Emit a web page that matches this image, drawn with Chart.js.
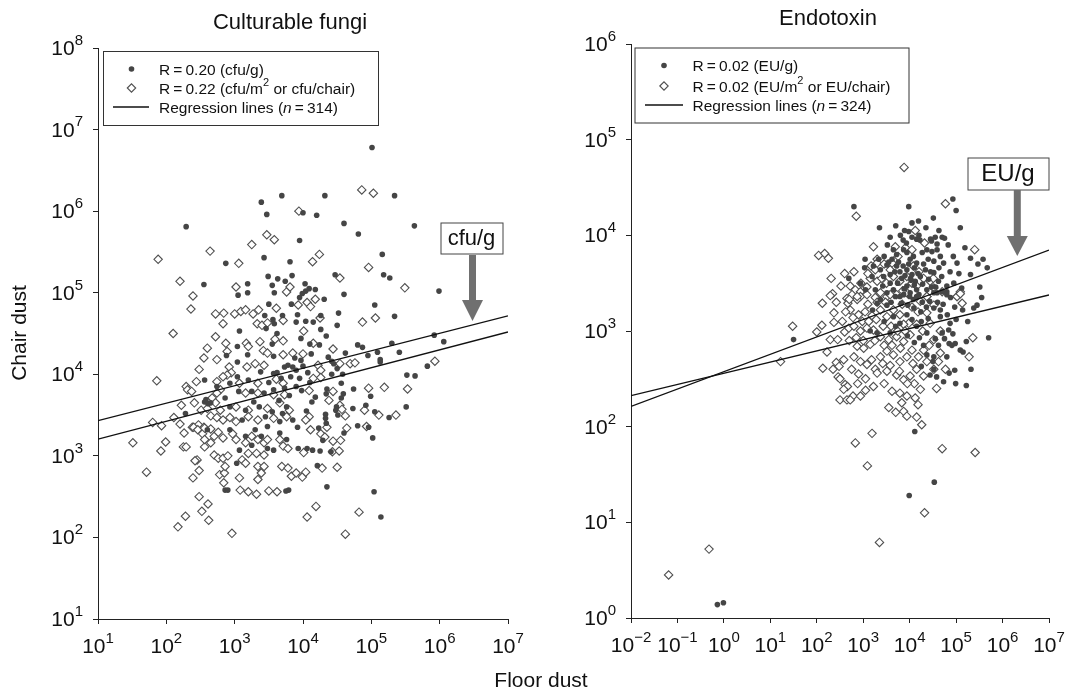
<!DOCTYPE html>
<html>
<head>
<meta charset="utf-8">
<script src="https://cdn.jsdelivr.net/npm/chart.js@4.4.1/dist/chart.umd.min.js"></script>
<style>
  html, body { margin: 0; padding: 0; background: #fff; }
  #wrap { position: relative; width: 1066px; height: 693px; overflow: hidden; }
  canvas { position: absolute; top: 0; }
  #fungiChart { left: 0; }
  #endoChart { left: 533px; }
  #xTitle { position: absolute; left: 431px; width: 220px; top: 667px; text-align: center;
            font: 21px/25px "Liberation Sans", Arial, sans-serif; color: #111; }
</style>
</head>
<body>
<div id="wrap">
  <canvas id="fungiChart" width="533" height="693"></canvas>
  <canvas id="endoChart" width="533" height="693"></canvas>
  <div id="xTitle">Floor dust</div>
</div>
<script>
// decades shown on the axes (exponents of 10)
const fungiXDecades = [1, 2, 3, 4, 5, 6, 7];
const fungiYDecades = [1, 2, 3, 4, 5, 6, 7, 8];
const endoXDecades = [-2, -1, 0, 1, 2, 3, 4, 5, 6, 7];
const endoYDecades = [0, 1, 2, 3, 4, 5, 6];

// regression lines, end points (floor dust -> chair dust)
const fungiFitX = [10, 1e7];
const fungiFitGram = [2700, 52000];
const fungiFitArea = [1600, 33000];
const endoFitX = [0.01, 1e7];
const endoFitGram = [163, 7000];
const endoFitArea = [211, 2380];

// samples as [log10 floor, log10 chair]
const fungiPerGram = [
  [5.01,6.78],[3.39,6.11],[3.69,6.19],[4.32,6.19],[5.34,6.19],[3.47,5.96],[4.0,5.98],[4.2,5.95],[2.29,5.81],[4.6,5.85],
  [4.81,5.72],[5.63,5.82],[3.95,5.64],[3.43,5.43],[2.87,5.36],[3.81,5.38],[5.16,5.47],[2.55,5.1],[3.49,5.2],[3.63,5.17],
  [3.84,5.21],[4.47,5.22],[5.18,5.22],[5.27,5.18],[5.99,5.02],[3.19,5.11],[3.05,4.97],[3.19,5.0],[3.55,5.09],[3.58,5.0],
  [3.74,5.14],[4.03,5.11],[4.09,5.05],[4.18,5.04],[3.99,4.99],[4.04,5.02],[4.6,4.98],[5.05,4.85],[5.34,4.71],[3.5,4.86],
  [3.83,4.86],[3.95,4.94],[4.31,4.92],[3.07,4.53],[3.44,4.72],[3.56,4.67],[3.7,4.72],[3.58,4.62],[3.46,4.56],[3.62,4.5],
  [3.92,4.73],[3.9,4.64],[4.04,4.65],[4.15,4.64],[4.26,4.72],[4.52,4.75],[4.5,4.6],[4.26,4.55],[4.34,4.47],[3.97,4.44],
  [5.92,4.48],
  [2.56,3.93],[2.56,3.66],[2.61,3.64],[2.28,3.52],[2.86,3.71],[3.03,2.91],[2.86,2.58],[2.9,2.58],[3.75,2.57],[3.79,2.58],
  [3.93,3.09],[4.06,3.09],[4.14,3.07],
  [3.04,4.34],[2.88,4.23],[3.04,4.15],[3.19,4.24],[3.57,4.22],[3.55,4.37],[3.73,4.09],[3.78,4.11],[3.85,4.09],[3.9,4.05],
  [3.57,4.01],[3.2,3.93],[3.04,3.97],[2.93,3.89],[3.06,3.79],[3.25,3.79],[3.43,3.77],[3.57,3.81],[3.73,3.83],[3.9,3.85],
  [2.58,3.69],[2.65,3.65],[2.93,3.6],[3.16,3.56],[3.36,3.6],[3.55,3.54],[3.76,3.6],[3.66,3.42],[3.85,3.44],[3.11,3.44],
  [3.3,3.32],[3.48,3.36],[2.6,3.32],[2.93,3.32],[3.16,3.24],[3.39,3.24],[3.66,3.28],[3.57,3.07],[3.48,3.09],[3.07,3.07],
  [3.25,3.13],[3.76,3.2],[2.74,3.85],
  [4.1,4.37],[4.24,4.36],[4.62,4.26],[4.8,4.36],[4.87,4.33],[4.95,4.23],[5.09,4.27],[5.13,4.18],[5.13,4.15],[5.41,4.27],
  [5.3,4.38],[6.06,4.4],[5.82,4.1],[5.52,3.99],[5.64,3.98],[4.37,4.21],[4.42,4.16],[4.45,4.13],[4.5,4.07],[4.58,4.0],
  [4.42,4.0],[4.56,3.89],[4.74,3.82],[4.35,3.82],[4.34,3.76],[4.59,3.76],[4.56,3.71],[4.49,3.6],[4.48,3.56],[4.73,3.58],
  [4.51,3.5],[4.33,3.51],[4.33,3.46],[4.34,3.4],[4.23,3.34],[4.29,3.19],[4.6,3.28],[4.8,3.37],[4.92,3.62],[4.99,3.73],
  [5.05,3.54],[5.26,3.47],[5.51,3.6],[5.02,3.22],[4.96,3.35],[4.25,3.06],[4.41,3.05],[4.21,2.88],[4.35,2.62],[5.04,2.56],
  [5.14,2.25],[4.18,3.72],[4.13,3.66],
  [3.62,4.02],[3.68,3.95],[3.82,3.97],[3.95,3.95],[4.0,4.1],[4.07,4.02],[3.88,4.2],[3.97,4.17],[4.1,3.9],[3.8,3.74],
  [3.65,3.68],[3.5,3.9],[3.38,4.03],[3.28,3.66],[3.45,3.48],[3.98,3.8],[4.05,3.55],[4.12,4.25],[3.7,3.52],[3.92,3.35]
];

const fungiPerArea = [
  [4.86,6.26],[5.03,6.22],[3.94,6.0],[3.47,5.71],[3.58,5.65],[3.25,5.59],[2.64,5.51],[1.88,5.41],[3.06,5.36],[4.14,5.38],
  [4.24,5.47],[4.96,5.31],[4.54,5.18],[2.2,5.14],[3.02,5.07],[5.49,5.06],[2.39,4.96],[2.36,4.8],[3.76,5.01],[3.81,5.07],
  [4.06,4.88],[4.18,4.92],[4.11,4.83],[3.61,4.81],[2.72,4.74],[2.84,4.75],[2.83,4.62],[3.0,4.74],[3.09,4.77],[3.16,4.79],
  [3.27,4.74],[3.35,4.79],[3.33,4.62],[3.4,4.6],[3.48,4.63],[3.71,4.66],[3.93,4.85],[4.01,4.53],[4.25,4.69],[4.87,4.64],
  [5.06,4.69],[2.1,4.5],[2.72,4.46],[2.87,4.38],[3.17,4.38],[3.37,4.4],[3.59,4.43],[3.71,4.41],[4.15,4.38],
  [1.86,3.92],[1.51,3.16],[1.71,2.8],[1.8,3.41],[1.93,3.37],[1.92,3.06],[1.99,3.17],[2.11,3.47],[2.22,3.62],[2.2,3.39],
  [2.26,3.28],[2.25,3.11],[2.29,3.11],[2.29,3.85],[2.31,3.81],[2.37,3.79],[2.41,3.65],[2.38,3.35],[2.44,3.91],[2.48,4.06],
  [2.55,4.2],[2.6,4.32],[2.47,3.38],[2.55,3.35],[2.45,2.95],[2.42,2.94],[2.48,2.82],[2.39,2.73],[2.48,2.5],[2.61,2.41],
  [2.52,2.32],[2.62,2.21],[2.28,2.26],[2.17,2.13],[2.96,2.05],[2.78,2.77],[2.85,2.79],[2.84,2.67],[2.86,2.87],[4.06,2.25],
  [4.19,2.38],[4.28,2.85],[4.5,2.86],[4.62,2.04],[4.82,2.31],[4.43,3.05],[4.44,3.18],[4.01,3.04],[4.26,3.27],[4.32,3.23],
  [4.35,3.35],[4.38,3.68],[4.44,3.79],[4.64,3.34],[4.93,3.36],[4.9,3.56],[4.96,3.83],[5.11,3.5],[5.19,3.84],[5.36,3.5],
  [5.53,3.82],[5.93,4.16],[4.69,4.13],[4.54,4.13],[4.15,3.95],[4.54,3.62],[4.57,3.57],
  [2.89,4.28],[2.74,4.18],[2.92,4.09],[2.95,4.02],[2.89,3.99],[3.18,4.09],[3.3,4.13],[3.43,4.11],[3.42,4.29],[3.48,4.26],
  [3.2,4.34],[3.71,4.24],[3.85,4.26],[2.74,3.91],[2.83,3.97],[3.07,3.89],[3.34,3.89],[3.61,3.94],[3.71,3.89],[2.79,3.81],
  [2.74,3.77],[3.16,3.77],[3.34,3.77],[3.57,3.75],[3.73,3.75],[2.67,3.71],[2.72,3.65],[2.51,3.56],[2.6,3.58],[2.79,3.56],
  [3.02,3.6],[3.2,3.56],[3.48,3.58],[3.66,3.65],[3.8,3.56],[2.65,3.49],[2.74,3.47],[2.83,3.44],[2.93,3.47],[3.02,3.42],
  [3.2,3.48],[3.34,3.44],[3.57,3.46],[3.76,3.48],[2.4,3.35],[2.46,3.32],[2.53,3.27],[2.56,3.34],[2.65,3.33],[2.7,3.24],
  [2.76,3.29],[2.83,3.22],[2.97,3.27],[3.02,3.2],[3.16,3.16],[3.25,3.24],[3.34,3.2],[3.43,3.16],[3.48,3.2],[3.66,3.2],
  [3.71,3.12],[3.78,3.09],[2.56,3.11],[2.65,3.16],[2.56,3.2],[2.7,3.01],[2.76,2.97],[2.83,2.97],[2.9,3.0],[3.2,3.03],
  [3.32,3.03],[3.43,3.01],[3.11,2.95],[3.16,2.91],[3.34,2.87],[3.43,2.87],[3.69,2.87],[3.78,2.85],[3.83,2.75],[3.9,2.79],
  [3.34,2.71],[3.39,2.79],[3.07,2.73],[3.08,2.58],[3.2,2.56],[3.32,2.53],[3.5,2.57],[3.62,2.56],
  [4.0,4.25],[4.22,4.11],[4.26,4.05],[4.26,3.96],[4.44,4.31],[4.76,4.14],[4.09,3.8],[4.62,3.49],[4.09,3.48],[4.11,3.32],
  [4.04,3.44],[4.55,3.19],[4.53,3.06],[3.99,2.74],[4.04,2.8]
];

const endoPerGram = [
  [2.8,4.3],[3.98,4.3],[4.93,4.38],[5.0,4.26],[5.09,4.08],[4.51,4.18],[4.19,4.15],[3.35,4.08],[3.58,3.98],[3.8,4.0],
  [3.89,4.05],[3.98,4.04],[4.05,3.98],[4.15,3.96],[4.22,3.95],[4.47,3.94],[4.59,3.91],[4.7,3.98],[4.75,3.97],[5.19,3.87],
  [5.31,3.76],[5.58,3.75],[5.47,3.7],[5.67,3.66],[5.31,3.59],[5.51,3.46],[3.04,3.75],[3.03,3.66],[3.22,3.68],[3.33,3.75],
  [2.69,3.55],[3.65,3.85],[3.72,3.8],[3.62,3.75],[3.87,3.85],[3.94,3.82],[4.01,3.75],[4.08,3.78],[4.15,3.71],[4.37,3.85],
  [4.48,3.83],[4.59,3.85],[4.66,3.78],[4.52,3.73],[4.73,3.71],[4.94,3.78],[5.02,3.71],[3.51,3.69],[3.37,3.64],[3.44,3.57],
  [3.58,3.59],[3.72,3.68],[3.79,3.62],[3.83,3.55],[3.94,3.64],[4.05,3.59],[4.12,3.52],[4.23,3.57],[4.34,3.64],[4.41,3.54],
  [4.52,3.61],[4.62,3.52],[4.69,3.57],[4.8,3.47],[3.94,3.47],[4.15,3.43],[4.37,3.43],[4.59,3.4],[4.8,3.41],[3.65,3.43],
  [3.79,3.36],[3.51,3.4],[2.94,3.5],[3.05,3.43],[3.26,3.43],
  [1.5,2.91],[4.11,1.95],[4.99,2.45],[5.22,2.43],[4.85,2.56],[4.97,2.59],[4.44,2.54],[4.52,2.6],[4.25,2.63],[4.5,2.68],
  [5.09,2.8],[5.15,2.78],[4.85,2.87],[4.98,2.87],[4.91,2.85],[4.75,2.92],[4.55,2.92],[4.37,2.98],[4.21,2.93],[5.7,2.93],
  [5.22,2.89],[5.14,3.22],[5.38,3.24],[4.87,3.08],[4.84,3.01],[4.66,3.15],[4.81,3.17],[4.52,3.24],[4.66,3.22],[3.3,3.29],
  [3.37,3.33],[3.51,3.27],[3.87,3.38],[4.01,3.4],[4.08,3.33],[4.15,3.36],[3.79,3.08],[3.65,3.15],[3.94,3.17],[4.05,3.12],
  [4.15,3.05],[3.15,3.0],[3.3,2.98],[3.58,2.98],[4.52,3.4],[4.7,3.41],[4.8,3.38],[4.37,2.75],[4.52,2.73],[4.8,2.73],
  [3.45,3.78],[3.55,3.72],[3.68,3.62],[3.76,3.72],[3.86,3.68],[3.9,3.58],[3.98,3.7],[4.03,3.53],[4.1,3.66],[4.18,3.6],
  [4.28,3.49],[4.3,3.7],[4.4,3.75],[4.45,3.62],[4.56,3.46],[4.63,3.66],[3.74,3.5],[3.88,3.44],[4.0,3.36],[4.1,3.48],
  [4.2,3.38],[4.27,3.3],[4.43,3.31],[4.47,3.46],[3.58,3.5],[3.69,3.36],[3.82,3.29],[3.96,3.27],[4.09,3.24],[4.24,3.2],
  [4.36,3.25],[4.6,3.3],[4.72,3.28],[4.88,3.35],[4.95,3.5],[5.06,3.6],[5.12,3.45],[4.87,3.62],[4.83,3.9],[4.63,4.05],
  [4.35,4.08],[4.05,4.13],[3.7,4.1],[3.52,3.9],[3.42,3.47],[3.19,3.57],[3.86,3.95],[4.27,3.82],[4.45,3.96],[3.6,3.3],
  [3.95,2.95],[4.1,2.88],[4.3,2.85],[4.62,2.85],[4.7,2.98],[4.93,2.97],[5.0,3.12],[4.97,3.25],[5.25,3.1],[5.45,3.27],
  [5.55,3.35],[4.58,2.52],[4.73,2.47],[5.32,2.6],[4.4,3.13],[4.25,3.1],[3.7,3.05],[3.45,3.1],[3.2,3.22],[4.02,3.55],
  [3.93,3.92],[4.2,4.0],[4.55,3.98],
  [-0.14,0.14],[-0.01,0.16],[3.99,1.28],[4.53,1.42]
];

const endoPerArea = [
  [3.88,4.71],[4.77,4.33],[2.85,4.2],[3.22,3.88],[4.12,4.05],[4.32,3.92],[5.4,3.85],[2.04,3.79],[2.17,3.81],[2.25,3.76],
  [2.31,3.55],[2.34,3.39],[3.3,3.75],[3.3,3.71],[3.69,3.88],[3.91,3.87],[4.05,3.85],[3.17,3.68],[3.26,3.64],[3.62,3.71],
  [3.58,3.64],[3.15,3.55],[3.3,3.52],[3.4,3.55],[3.65,3.57],[3.79,3.52],[3.94,3.57],[4.05,3.5],[4.15,3.47],[4.3,3.55],
  [4.44,3.52],[4.51,3.55],[5.09,3.41],[5.02,3.36],[2.72,3.47],[2.83,3.43],[2.94,3.41],[3.08,3.46],[2.94,3.36],[2.76,3.38],
  [2.29,3.37],[2.65,3.34],[2.87,3.33],[3.37,3.4],[3.51,3.36],[3.72,3.38],[3.94,3.4],[4.37,3.36],[4.52,3.45],[4.7,3.41],
  [2.12,3.29],[1.48,3.05],[2.11,3.06],[2.0,2.99],[2.37,3.19],[2.37,3.09],[2.29,2.91],[2.45,2.91],[2.22,2.78],[1.22,2.68],
  [2.13,2.61],[2.35,2.6],[2.46,2.52],[2.58,2.7],[2.6,2.99],[2.69,3.03],[2.67,3.29],[2.7,3.33],[2.42,2.67],[2.48,2.63],
  [2.61,2.44],[2.66,2.42],[2.5,2.28],[2.65,2.28],[2.78,2.32],[2.94,2.32],[2.72,2.28],[2.58,2.39],[2.8,2.73],[2.94,2.68],
  [3.08,2.65],[3.26,2.6],[2.87,2.84],[3.01,2.82],[3.15,2.86],[2.8,3.05],[2.94,3.0],[3.08,3.03],[3.22,3.01],[2.72,3.22],
  [2.9,3.17],[3.04,3.2],[3.19,3.16],[2.87,3.36],[3.08,3.38],[3.26,3.35],[3.37,3.22],[3.51,3.15],[3.65,3.22],[3.79,3.17],
  [3.37,2.94],[3.55,2.91],[3.72,2.94],[3.87,2.89],[4.01,2.96],[3.37,2.73],[3.51,2.79],[3.65,2.75],[3.79,2.68],[3.94,2.73],
  [3.3,2.56],[3.51,2.58],[3.72,2.54],[3.87,2.49],[4.01,2.53],[3.22,2.42],[3.62,2.37],[3.79,2.35],[3.94,2.32],[3.83,2.25],
  [4.12,2.3],[3.87,2.16],[3.94,2.11],[4.15,2.1],[4.26,2.02],[4.23,2.39],[4.15,2.6],[4.3,2.53],[4.19,2.73],[4.37,2.68],
  [3.19,1.93],[2.83,1.83],[4.7,1.77],[5.41,1.73],[5.28,2.73],[4.66,2.77],[4.52,2.91],[4.66,3.0],[4.44,3.08],[4.37,3.19],
  [4.52,3.27],[4.23,3.31],[4.37,3.36],[4.62,2.68],[4.77,2.6],[4.52,2.6],[5.02,3.36],[5.13,3.29],[5.09,3.39],[3.98,3.08],
  [4.15,3.07],[3.87,3.07],[5.36,2.93],
  [2.55,3.1],[2.62,3.2],[2.78,3.14],[2.98,3.1],[3.12,3.1],[3.28,3.12],[3.43,3.05],[3.6,3.05],[3.74,3.0],[3.9,3.0],
  [2.7,2.9],[2.85,2.93],[3.0,2.9],[3.25,2.9],[3.45,2.85],[3.62,2.85],[3.8,2.82],[4.05,2.8],[2.75,2.6],[2.9,2.55],
  [3.05,2.5],[3.18,2.7],[3.42,2.66],[3.58,2.64],[3.78,2.58],[4.07,2.66],[4.1,2.45],[2.88,2.45],[3.05,2.38],[3.45,2.45],
  [2.5,2.5],[3.1,3.28],[3.3,3.3],[3.48,3.3],[3.58,3.38],[3.84,3.28],[4.05,3.25],[4.18,3.2],[4.28,3.0],[4.3,2.8],
  [2.95,3.5],[3.1,3.6],[3.5,3.5],[3.85,3.42],[4.2,3.62],[3.45,3.7],[3.75,3.78],[4.08,3.68],[2.52,3.47],[2.42,3.3],
  [2.6,3.6],[2.8,3.62],[4.42,2.85],[4.58,2.4],[3.95,2.45],[4.18,2.23],[3.7,2.15],[3.55,2.2],
  [3.35,0.79],[4.32,1.1],[-0.32,0.72],[-1.19,0.45],[3.09,1.59]
];

const FONT = '"Liberation Sans", Arial, sans-serif';
const DOT_COLOR = "#454545";
const DIAMOND_EDGE = "#4f4f4f";

const toPoints = (pairs) => pairs.map(([lx, ly]) => ({ x: Math.pow(10, lx), y: Math.pow(10, ly) }));
const toLine = (xs, ys) => xs.map((x, i) => ({ x: x, y: ys[i] }));

// text made of runs, some raised (superscript) or italic
function drawRuns(ctx, runs, x, y, size, align) {
  const supSize = Math.round(size * 0.7);
  const fontOf = (r) => (r.it ? "italic " : "") + (r.sup ? supSize : size) + "px " + FONT;
  let total = 0;
  const widths = runs.map((r) => {
    ctx.font = fontOf(r);
    const w = ctx.measureText(r.t).width;
    total += w;
    return w;
  });
  let cx = align === "right" ? x - total : align === "center" ? x - total / 2 : x;
  ctx.textAlign = "left";
  ctx.textBaseline = "alphabetic";
  runs.forEach((r, i) => {
    ctx.font = fontOf(r);
    ctx.fillText(r.t, cx, r.sup ? y - size * 0.48 : y);
    cx += widths[i];
  });
}

function expLabel(e) {
  return e < 0 ? "\u2212" + -e : String(e);
}

function drawDot(ctx, x, y) {
  ctx.beginPath();
  ctx.arc(x, y, 2.8, 0, Math.PI * 2);
  ctx.fillStyle = DOT_COLOR;
  ctx.fill();
}

function drawDiamond(ctx, x, y) {
  ctx.beginPath();
  ctx.moveTo(x - 4.2, y);
  ctx.lineTo(x, y - 4.2);
  ctx.lineTo(x + 4.2, y);
  ctx.lineTo(x, y + 4.2);
  ctx.closePath();
  ctx.fillStyle = "#fff";
  ctx.fill();
  ctx.strokeStyle = DIAMOND_EDGE;
  ctx.lineWidth = 1.1;
  ctx.stroke();
}

const figureDecor = {
  id: "figureDecor",
  afterDraw(chart, args, o) {
    const ctx = chart.ctx;
    const xs = chart.scales.x, ys = chart.scales.y;
    const area = chart.chartArea;
    ctx.save();
    ctx.fillStyle = "#111";

    // decade labels 10^n
    o.xDecades.forEach((e) => {
      const px = xs.getPixelForValue(Math.pow(10, e));
      drawRuns(ctx, [{ t: "10" }, { t: expLabel(e), sup: true }], px, area.bottom + 34, 21, "center");
    });
    o.yDecades.forEach((e) => {
      const py = ys.getPixelForValue(Math.pow(10, e));
      drawRuns(ctx, [{ t: "10" }, { t: expLabel(e), sup: true }], area.left - 15, py + 7, 21, "right");
    });

    // panel title
    ctx.font = "22px " + FONT;
    ctx.textAlign = "center";
    ctx.textBaseline = "middle";
    ctx.fillText(o.title.text, o.title.x, o.title.y);

    if (o.yTitle) {
      ctx.save();
      ctx.font = "21px " + FONT;
      ctx.translate(o.yTitle.x, o.yTitle.y);
      ctx.rotate(-Math.PI / 2);
      ctx.fillText(o.yTitle.text, 0, 0);
      ctx.restore();
    }

    // legend box
    const lg = o.legend;
    ctx.fillStyle = "#fff";
    ctx.fillRect(lg.box[0], lg.box[1], lg.box[2], lg.box[3]);
    ctx.strokeStyle = "#333";
    ctx.lineWidth = 1;
    ctx.strokeRect(lg.box[0] + 0.5, lg.box[1] + 0.5, lg.box[2], lg.box[3]);
    lg.rows.forEach((row, i) => {
      const ry = lg.rowY[i];
      if (row.marker === "dot") drawDot(ctx, lg.markerX, ry);
      else if (row.marker === "diamond") drawDiamond(ctx, lg.markerX, ry);
      else {
        ctx.beginPath();
        ctx.moveTo(lg.lineX[0], ry);
        ctx.lineTo(lg.lineX[1], ry);
        ctx.strokeStyle = "#111";
        ctx.lineWidth = 1.3;
        ctx.stroke();
      }
      ctx.fillStyle = "#111";
      drawRuns(ctx, row.runs, lg.textX, ry + 5.5, 15.5, "left");
    });

    // unit note with arrow
    const n = o.note;
    ctx.fillStyle = "#fff";
    ctx.fillRect(n.box[0], n.box[1], n.box[2], n.box[3]);
    ctx.strokeStyle = "#444";
    ctx.lineWidth = 1;
    ctx.strokeRect(n.box[0] + 0.5, n.box[1] + 0.5, n.box[2], n.box[3]);
    ctx.fillStyle = "#111";
    ctx.font = n.size + "px " + FONT;
    ctx.textAlign = "center";
    ctx.textBaseline = "middle";
    ctx.fillText(n.text, n.box[0] + n.box[2] / 2, n.box[1] + n.box[3] / 2 + 1);

    ctx.fillStyle = "#707070";
    ctx.fillRect(n.arrowX - 3.5, n.arrowTop, 7, n.headTop - n.arrowTop + 1);
    ctx.beginPath();
    ctx.moveTo(n.arrowX - 10.5, n.headTop);
    ctx.lineTo(n.arrowX + 10.5, n.headTop);
    ctx.lineTo(n.arrowX, n.arrowBottom);
    ctx.closePath();
    ctx.fill();

    ctx.restore();
  }
};

function logAxis(min, max, decades) {
  return {
    type: "logarithmic",
    min: min,
    max: max,
    afterBuildTicks: (axis) => {
      axis.ticks = decades.map((e) => ({ value: Math.pow(10, e) }));
    },
    ticks: { display: false },
    grid: { drawOnChartArea: false, drawTicks: true, tickLength: 5, color: "#222", lineWidth: 1 },
    border: { display: true, color: "#222", width: 1 }
  };
}

function panelDatasets(fitX, fitGram, fitArea, gram, area) {
  const line = (ys) => ({
    data: toLine(fitX, ys),
    showLine: true,
    borderColor: "#111",
    borderWidth: 1.3,
    pointRadius: 0
  });
  return [
    line(fitGram),
    line(fitArea),
    {
      data: toPoints(gram),
      pointStyle: "circle",
      pointRadius: 2.8,
      backgroundColor: DOT_COLOR,
      borderColor: DOT_COLOR,
      borderWidth: 0
    },
    {
      data: toPoints(area),
      pointStyle: "rectRot",
      pointRadius: 4.2,
      backgroundColor: "#fff",
      borderColor: DIAMOND_EDGE,
      borderWidth: 1.1
    }
  ];
}

const baseOptions = {
  responsive: false,
  animation: false,
  events: [],
  plugins: { legend: { display: false }, tooltip: { enabled: false } }
};

new Chart(document.getElementById("fungiChart"), {
  type: "scatter",
  data: { datasets: panelDatasets(fungiFitX, fungiFitGram, fungiFitArea, fungiPerGram, fungiPerArea) },
  options: Object.assign({}, baseOptions, {
    layout: { padding: { left: 93, right: 25, top: 48, bottom: 69 } },
    scales: { x: logAxis(10, 1e7, fungiXDecades), y: logAxis(10, 1e8, fungiYDecades) },
    plugins: Object.assign({}, baseOptions.plugins, {
      figureDecor: {
        xDecades: fungiXDecades,
        yDecades: fungiYDecades,
        title: { text: "Culturable fungi", x: 290, y: 23 },
        yTitle: { text: "Chair dust", x: 20, y: 333 },
        legend: {
          box: [103, 51, 275, 74],
          rowY: [69, 88, 107],
          markerX: 131.5,
          lineX: [113, 149],
          textX: 159,
          rows: [
            { marker: "dot", runs: [{ t: "R\u2009=\u20090.20 (cfu/g)" }] },
            { marker: "diamond", runs: [{ t: "R\u2009=\u20090.22 (cfu/m" }, { t: "2", sup: true }, { t: " or cfu/chair)" }] },
            { marker: "line", runs: [{ t: "Regression lines (" }, { t: "n", it: true }, { t: "\u2009=\u2009314)" }] }
          ]
        },
        note: { text: "cfu/g", size: 22, box: [440.5, 222.5, 62, 31], arrowX: 472.5, arrowTop: 255, headTop: 300, arrowBottom: 321 }
      }
    })
  }),
  plugins: [figureDecor]
});

new Chart(document.getElementById("endoChart"), {
  type: "scatter",
  data: { datasets: panelDatasets(endoFitX, endoFitGram, endoFitArea, endoPerGram, endoPerArea) },
  options: Object.assign({}, baseOptions, {
    layout: { padding: { left: 93, right: 17, top: 44, bottom: 70 } },
    scales: { x: logAxis(0.01, 1e7, endoXDecades), y: logAxis(1, 1e6, endoYDecades) },
    plugins: Object.assign({}, baseOptions.plugins, {
      figureDecor: {
        xDecades: endoXDecades,
        yDecades: endoYDecades,
        title: { text: "Endotoxin", x: 295, y: 19 },
        legend: {
          box: [101.5, 47.5, 274, 75],
          rowY: [65.5, 86, 105],
          markerX: 131,
          lineX: [112, 150],
          textX: 159.5,
          rows: [
            { marker: "dot", runs: [{ t: "R\u2009=\u20090.02 (EU/g)" }] },
            { marker: "diamond", runs: [{ t: "R\u2009=\u20090.02 (EU/m" }, { t: "2", sup: true }, { t: " or EU/chair)" }] },
            { marker: "line", runs: [{ t: "Regression lines (" }, { t: "n", it: true }, { t: "\u2009=\u2009324)" }] }
          ]
        },
        note: { text: "EU/g", size: 24, box: [434.5, 157.5, 81, 32], arrowX: 484.3, arrowTop: 190, headTop: 236, arrowBottom: 256 }
      }
    })
  }),
  plugins: [figureDecor]
});
</script>
</body>
</html>
